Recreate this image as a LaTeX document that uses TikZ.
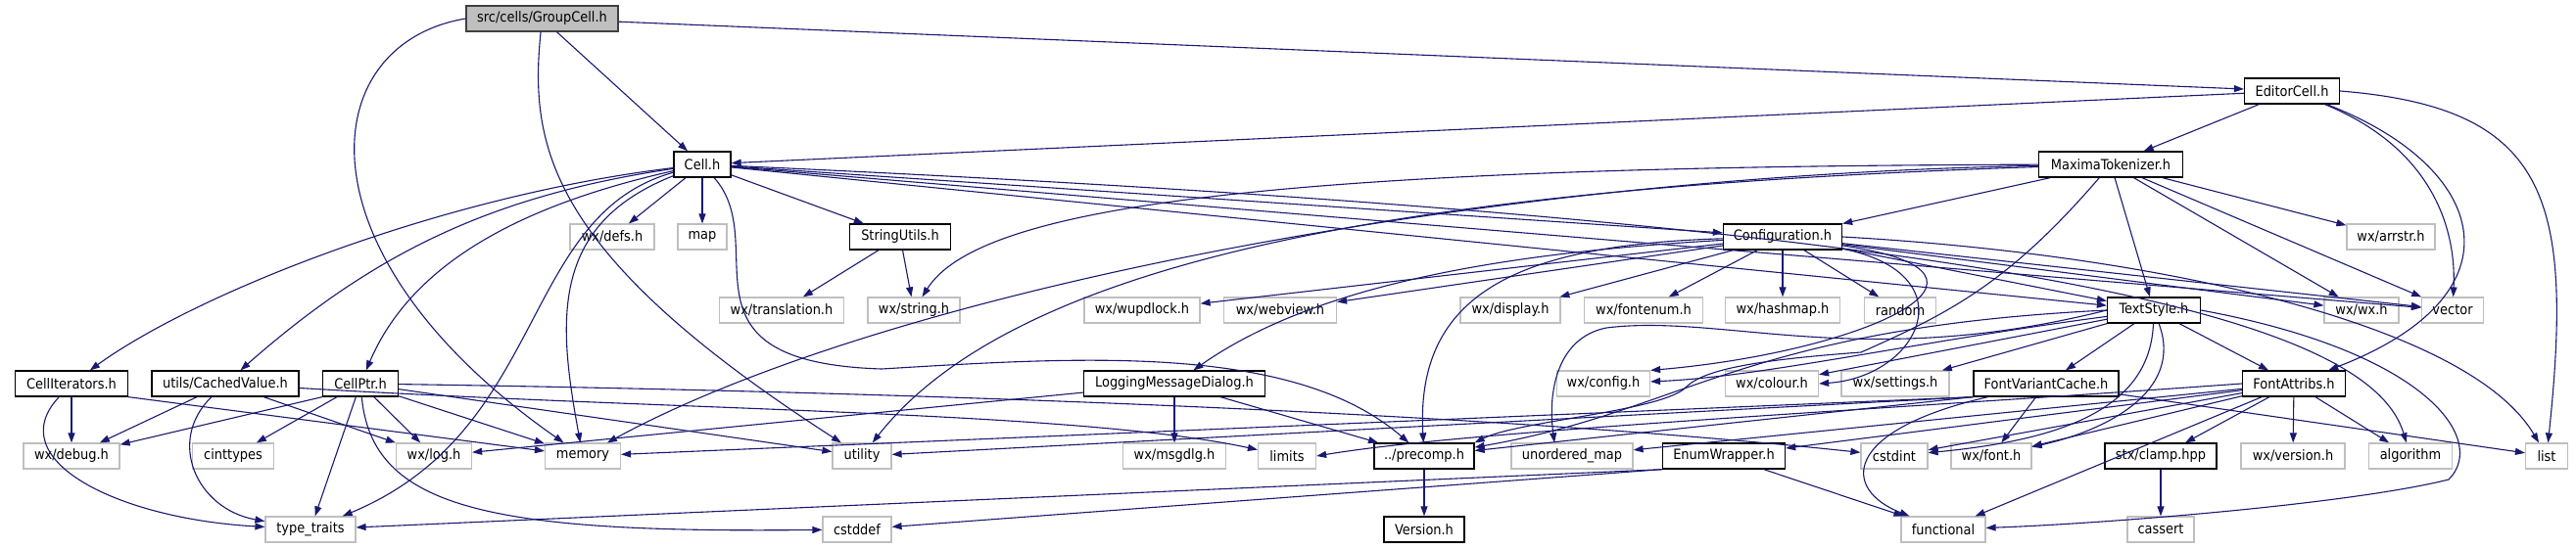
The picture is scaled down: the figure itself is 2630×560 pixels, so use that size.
\documentclass[tikz,border=0pt]{standalone}
\usepackage{fontspec}
\setmainfont{DejaVu Sans Condensed}
\usetikzlibrary{arrows.meta}
\definecolor{navy}{HTML}{191970}
\definecolor{extgray}{HTML}{BFBFBF}
\definecolor{rootgray}{HTML}{BFBFBF}
\tikzset{
  box/.style={draw, minimum height=26pt, inner sep=0pt, font=\fontsize{14.4}{16}\selectfont, text=black},
  ext/.style={box, draw=extgray, line width=1.2pt},
  int/.style={box, draw=black, line width=1.3pt},
  root/.style={box, draw=black!75, fill=rootgray, line width=1.3pt},
  dep/.style={draw=navy, line width=1.1pt, -{Triangle[length=10pt,width=7pt]}},
}
\newcommand\nd[6]{\node[#1, minimum width=#5pt] (#2) at (#3,#4) {#6};}
\begin{document}
\begin{tikzpicture}[x=1pt,y=-1pt]
\useasboundingbox (0,0) rectangle (2630,560);
\fill[white] (0,0) rectangle (2630,560);
% row 0/1
\nd{root}{g}{553.5}{19}{155}{src/cells/GroupCell.h}
\nd{int}{ed}{2340}{93}{97}{EditorCell.h}
% row 2
\nd{int}{cell}{717}{168}{58}{Cell.h}
\nd{int}{mt}{2155}{168}{147}{MaximaTokenizer.h}
% row 3
\nd{ext}{defs}{625}{242}{86}{wx/defs.h}
\nd{ext}{map}{717}{242}{50}{map}
\nd{int}{su}{919}{242}{103}{StringUtils.h}
\nd{int}{conf}{1820}{242}{121}{Configuration.h}
\nd{ext}{arrstr}{2441}{242}{90}{wx/arrstr.h}
% row 4
\nd{ext}{trans}{798}{317}{127}{wx/translation.h}
\nd{ext}{wxstr}{933}{317}{94}{wx/string.h}
\nd{ext}{wupd}{1166}{317}{118}{wx/wupdlock.h}
\nd{ext}{webv}{1307}{317}{115}{wx/webview.h}
\nd{ext}{disp}{1542}{317}{102}{wx/display.h}
\nd{ext}{fenum}{1678}{317}{121}{wx/fontenum.h}
\nd{ext}{hmap}{1820}{317}{117}{wx/hashmap.h}
\nd{ext}{rnd}{1940}{317}{73}{random}
\nd{int}{ts}{2199}{317}{95}{TextStyle.h}
\nd{ext}{wxwx}{2411}{317}{76}{wx/wx.h}
\nd{ext}{vec}{2504}{317}{63}{vector}
% row 5
\nd{int}{ci}{73}{392}{115}{CellIterators.h}
\nd{int}{cv}{230}{392}{150}{utils/CachedValue.h}
\nd{int}{cp}{368}{392}{77}{CellPtr.h}
\nd{int}{lmd}{1199}{392}{185}{LoggingMessageDialog.h}
\nd{ext}{cfg}{1637}{392}{95}{wx/config.h}
\nd{ext}{col}{1809}{392}{95}{wx/colour.h}
\nd{ext}{sett}{1935}{392}{110}{wx/settings.h}
\nd{int}{fvc}{2089}{392}{148}{FontVariantCache.h}
\nd{int}{fa}{2342}{392}{105}{FontAttribs.h}
% row 6
\nd{ext}{dbg}{73}{466}{98}{wx/debug.h}
\nd{ext}{cint}{238}{466}{83}{cinttypes}
\nd{ext}{log}{443}{466}{77}{wx/log.h}
\nd{ext}{mem}{595}{466}{77}{memory}
\nd{ext}{util}{880}{466}{60}{utility}
\nd{ext}{msg}{1199}{466}{105}{wx/msgdlg.h}
\nd{ext}{lim}{1314}{466}{59}{limits}
\nd{int}{pre}{1454}{466}{102}{../precomp.h}
\nd{ext}{umap}{1605}{466}{124}{unordered\_map}
\nd{int}{ew}{1760}{466}{125}{EnumWrapper.h}
\nd{ext}{cstdint}{1934}{466}{68}{cstdint}
\nd{ext}{font}{2033}{466}{82}{wx/font.h}
\nd{int}{clamp}{2206}{466}{114}{stx/clamp.hpp}
\nd{ext}{ver}{2341}{466}{106}{wx/version.h}
\nd{ext}{alg}{2461}{466}{85}{algorithm}
\nd{ext}{lst}{2600}{466}{43}{list}
% row 7
\nd{ext}{tt}{317}{541}{92}{type\_traits}
\nd{ext}{cdef}{875}{541}{70}{cstddef}
\nd{int}{vers}{1454}{541}{82}{Version.h}
\nd{ext}{func}{1984}{541}{86}{functional}
\nd{ext}{cass}{2206}{541}{68}{cassert}

% GroupCell
\draw[dep] (g) -- (cell);
\draw[dep] (g) -- (ed);
\draw[dep] (g.west) .. controls (320,45) and (300,260) .. (mem);
\draw[dep] (g) .. controls (540,150) and (560,260) .. (util);
% EditorCell
\draw[dep] (ed) -- (cell);
\draw[dep] (ed) -- (mt);
\draw[dep] (ed) .. controls (2480,150) and (2508,230) .. (vec);
\draw[dep] (ed) .. controls (2540,170) and (2580,300) .. (fa);
\draw[dep] (ed.east) .. controls (2600,110) and (2628,200) .. (lst);
% Cell
\draw[dep] (cell) .. controls (450,200) and (200,300) .. (ci);
\draw[dep] (cell) .. controls (500,200) and (380,260) .. (cv);
\draw[dep] (cell) .. controls (530,210) and (420,270) .. (cp);
\draw[dep] (cell) .. controls (530,220) and (560,440) .. (tt);
\draw[dep] (cell) .. controls (560,230) and (570,330) .. (mem);
\draw[dep] (cell) -- (defs);
\draw[dep] (cell) -- (map);
\draw[dep] (cell) .. controls (790,250) and (680,370) .. (900,377) .. controls (1100,365) and (1320,350) .. (pre);
\draw[dep] (cell) -- (su);
\draw[dep] (cell) -- (conf);
\draw[dep] (cell) -- (ts);
\draw[dep] (cell) -- (vec);
\draw[dep] (cell) .. controls (2100,230) and (2420,330) .. (alg);
% MaximaTokenizer
\draw[dep] (mt) -- (conf);
\draw[dep] (mt) -- (arrstr);
\draw[dep] (mt) -- (ts);
\draw[dep] (mt) -- (wxwx);
\draw[dep] (mt) -- (vec);
\draw[dep] (mt) .. controls (2050,290) and (1990,320) .. (1900,360) .. controls (1790,368) and (1740,378) .. (1722,395) .. controls (1700,420) and (1550,430) .. (pre.north east);
\draw[dep] (mt) .. controls (1300,170) and (1000,210) .. (wxstr);
\draw[dep] (mt) .. controls (1500,180) and (900,300) .. (mem);
\draw[dep] (mt) .. controls (1500,190) and (1050,250) .. (util);
% StringUtils
\draw[dep] (su) -- (trans);
\draw[dep] (su) -- (wxstr);
% Configuration
\draw[dep] (conf) -- (wupd);
\draw[dep] (conf) -- (webv);
\draw[dep] (conf) -- (disp);
\draw[dep] (conf) -- (fenum);
\draw[dep] (conf) -- (hmap);
\draw[dep] (conf) -- (rnd);
\draw[dep] (conf) -- (ts);
\draw[dep] (conf) -- (wxwx);
\draw[dep] (conf) -- (vec);
\draw[dep] (conf.east) .. controls (2200,260) and (2520,330) .. (lst);
\draw[dep] (conf) .. controls (1500,260) and (1330,300) .. (lmd);
\draw[dep] (conf) .. controls (1550,250) and (1445,300) .. (pre);
\draw[dep] (conf) .. controls (2080,280) and (1900,360) .. (cfg.north east);
\draw[dep] (conf) .. controls (2010,280) and (1960,385) .. (col.east);
% TextStyle
\draw[dep] (ts) -- (fvc);
\draw[dep] (ts) -- (fa);
\draw[dep] (ts) .. controls (2230,400) and (2150,440) .. (font);
\draw[dep] (ts) .. controls (2195,420) and (2100,450) .. (cstdint);
\draw[dep] (ts.east) .. controls (2480,360) and (2540,450) .. (2500,490) .. controls (2400,515) and (2150,535) .. (func);
\draw[dep] (ts) .. controls (1950,350) and (1800,385) .. (cfg);
\draw[dep] (ts) -- (col);
\draw[dep] (ts) -- (sett);
\draw[dep] (ts.west) .. controls (1780,335) and (1720,420) .. (pre);
\draw[dep] (ts.west) .. controls (1900,380) and (1760,320) .. (1640,335) .. controls (1590,345) and (1580,400) .. ([xshift=-18pt]umap.north);
% FontVariantCache
\draw[dep] (fvc) -- (font);
\draw[dep] (fvc) -- (lst);
\draw[dep] (fvc) .. controls (1880,440) and (1880,500) .. (func);
\draw[dep] (fvc.south west) -- (pre);
\draw[dep] (fvc.south west) -- (mem);
\draw[dep] (fvc.south west) -- (util);
% FontAttribs
\draw[dep] (fa) -- (ver);
\draw[dep] (fa) -- (alg);
\draw[dep] (fa) -- (clamp);
\draw[dep] (fa) -- (func);
\draw[dep] (fa) -- (font);
\draw[dep] (fa) -- (cstdint);
\draw[dep] (fa) -- (ew);
\draw[dep] (fa) -- (umap);
\draw[dep] (fa.west) .. controls (1900,420) and (1500,440) .. (lim.east);
% CellIterators, CachedValue, CellPtr
\draw[dep] (ci) -- (dbg);
\draw[dep] (ci) .. controls (0,470) and (120,530) .. (tt);
\draw[dep] (ci.south east) -- (mem);
\draw[dep] (cv) -- (dbg);
\draw[dep] (cv) .. controls (170,450) and (200,520) .. (tt);
\draw[dep] (cv) -- (log);
\draw[dep] (cv) .. controls (700,420) and (1100,420) .. (lim);
\draw[dep] (cp.south west) -- (dbg);
\draw[dep] (cp) -- (cint);
\draw[dep] (cp) -- (tt);
\draw[dep] (cp) .. controls (380,520) and (500,545) .. (cdef);
\draw[dep] (cp) -- (log);
\draw[dep] (cp) -- (mem);
\draw[dep] (cp) -- (util);
\draw[dep] (cp) .. controls (900,400) and (1500,420) .. (cstdint);
% LoggingMessageDialog
\draw[dep] (lmd) -- (msg);
\draw[dep] (lmd) -- (pre);
\draw[dep] (lmd) -- (log);
% misc
\draw[dep] (pre) -- (vers);
\draw[dep] (clamp) -- (cass);
\draw[dep] (ew.south west) -- (tt);
\draw[dep] (ew.south west) -- (cdef);
\draw[dep] (ew) -- (func);
\end{tikzpicture}
\end{document}
